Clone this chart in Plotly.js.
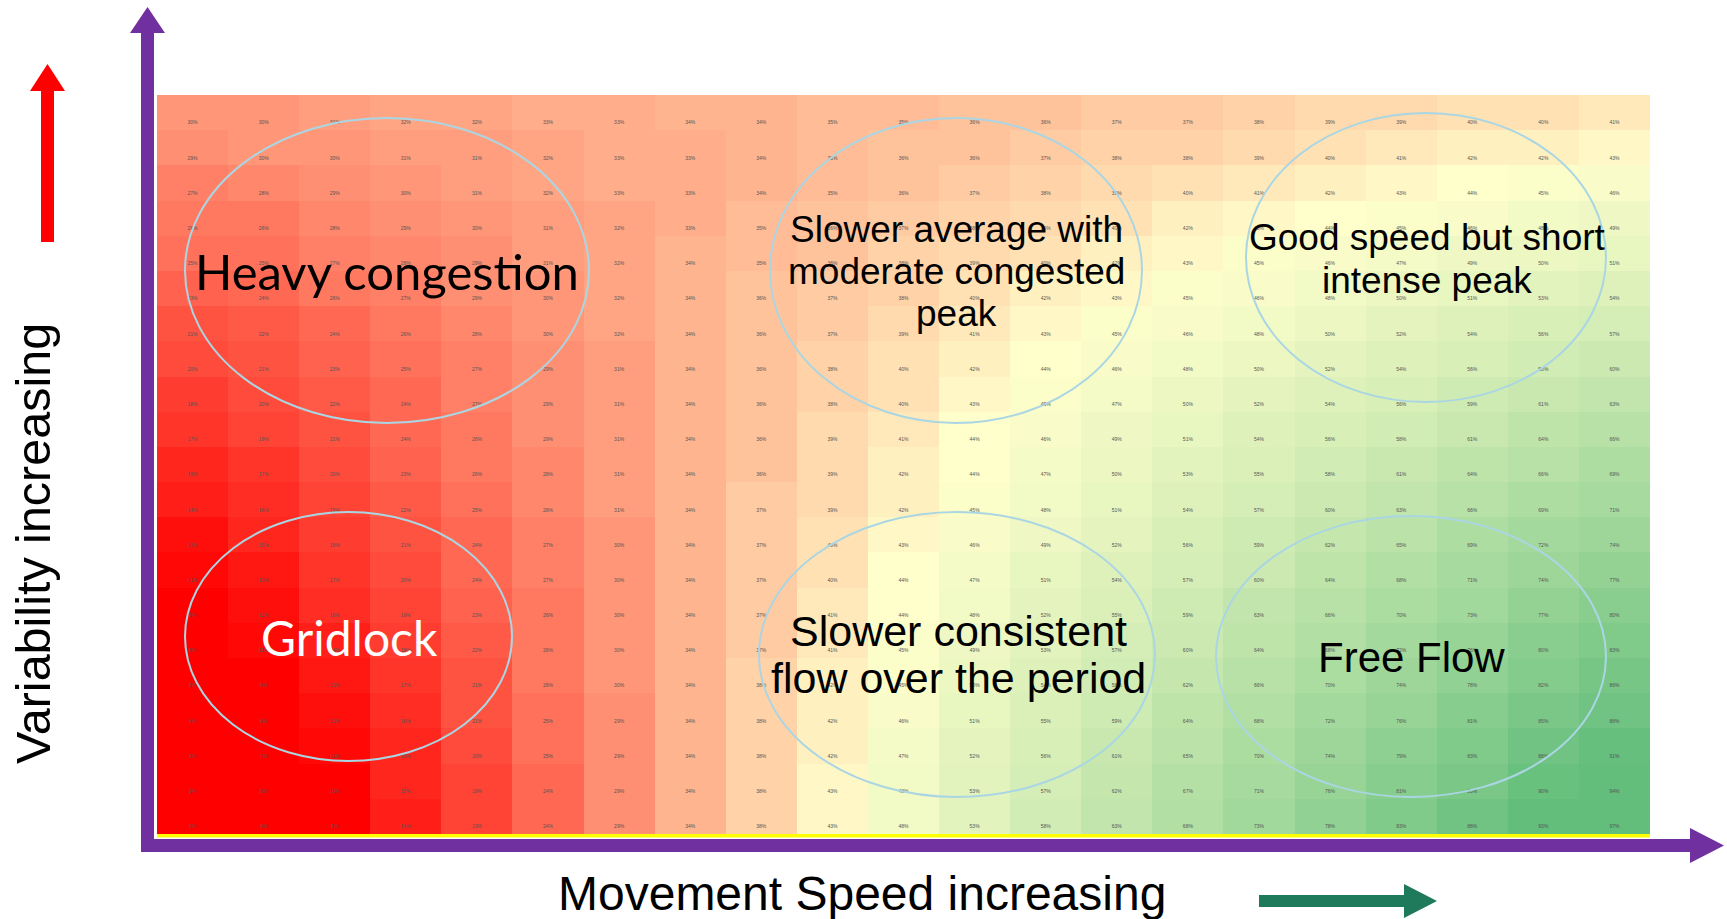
<!DOCTYPE html>
<html>
<head>
<meta charset="utf-8">
<script src="https://cdn.plot.ly/plotly-3.0.1.min.js"></script>
<style>html,body{margin:0;padding:0;background:#fff;}#chart{width:1727px;height:919px;}</style>
</head>
<body>
<div id="chart"></div>
<script>
// Speed columns (left = slow, right = fast) and variability rows (top = high, bottom = low)
const speedCols = Array.from({length: 21}, (_, i) => 'S' + (i + 1));
const variabilityRows = Array.from({length: 21}, (_, i) => 'V' + (21 - i));

// Cell values (%), top row first
const row01 = [30,30,31,32,32,33,33,34,34,35,35,36,36,37,37,38,39,39,40,40,41];
const row02 = [29,30,30,31,31,32,33,33,34,35,36,36,37,38,38,39,40,41,42,42,43];
const row03 = [27,28,29,30,31,32,33,33,34,35,36,37,38,39,40,41,42,43,44,45,46];
const row04 = [26,26,28,29,30,31,32,33,35,36,37,38,39,40,42,43,44,45,46,48,49];
const row05 = [25,25,27,28,29,31,32,34,35,36,38,39,40,42,43,45,46,47,49,50,51];
const row06 = [23,24,26,27,29,30,32,34,36,37,38,40,42,43,45,46,48,50,51,53,54];
const row07 = [21,22,24,26,28,30,32,34,36,37,39,41,43,45,46,48,50,52,54,56,57];
const row08 = [20,21,23,25,27,29,31,34,36,38,40,42,44,46,48,50,52,54,56,58,60];
const row09 = [18,20,22,24,27,29,31,34,36,38,40,43,45,47,50,52,54,56,59,61,63];
const row10 = [17,19,21,24,26,29,31,34,36,39,41,44,46,49,51,54,56,58,61,64,66];
const row11 = [15,17,20,23,26,28,31,34,36,39,42,44,47,50,53,55,58,61,64,66,69];
const row12 = [14,16,19,22,25,28,31,34,37,39,42,45,48,51,54,57,60,63,66,69,71];
const row13 = [12,15,18,21,24,27,30,34,37,40,43,46,49,52,56,59,62,65,69,72,74];
const row14 = [11,13,17,20,24,27,30,34,37,40,44,47,51,54,57,60,64,68,71,74,77];
const row15 = [9,12,16,19,23,26,30,34,37,41,44,48,52,55,59,63,66,70,73,77,80];
const row16 = [8,11,14,18,22,26,30,34,37,41,45,49,53,57,60,64,68,72,76,80,83];
const row17 = [6,9,13,17,21,26,30,34,38,42,45,50,54,58,62,66,70,74,78,82,86];
const row18 = [4,8,12,16,21,25,29,34,38,42,46,51,55,59,64,68,72,76,81,85,88];
const row19 = [3,7,11,15,20,25,29,34,38,42,47,52,56,61,65,70,74,79,83,88,91];
const row20 = [1,5,10,15,19,24,29,34,38,43,48,53,57,62,67,71,76,81,85,90,94];
const row21 = [0,4,9,14,19,24,29,34,38,43,48,53,58,63,68,73,78,83,88,93,97];

const zValues = [row01,row02,row03,row04,row05,row06,row07,row08,row09,row10,row11,
                 row12,row13,row14,row15,row16,row17,row18,row19,row20,row21];

const W = 1727, H = 919;
const X = px => px / W;
const Y = py => 1 - py / H;
const pathOf = pts => 'M ' + pts.map(p => X(p[0]) + ',' + Y(p[1])).join(' L ') + ' Z';

const heat = {
  type: 'heatmap',
  x: speedCols,
  y: variabilityRows,
  z: zValues,
  zmin: 0, zmax: 97,
  colorscale: [[0, '#FF0000'], [10/97, '#FF0000'], [44/97, '#FFFFCC'], [92/97, '#63BE7B'], [1, '#63BE7B']],
  showscale: false,
  hoverinfo: 'skip'
};

// cell labels, drawn near the bottom of each cell via a shifted overlay axis
const lblX = [], lblY = [], lblT = [];
zValues.forEach((row, r) => row.forEach((v, c) => {
  lblX.push(speedCols[c]); lblY.push(variabilityRows[r]); lblT.push(v + '%');
}));
const labels = {
  type: 'scatter', mode: 'text', x: lblX, y: lblY, text: lblT, yaxis: 'y2',
  textfont: {family: 'Arial, Liberation Sans', size: 5, color: '#555'},
  hoverinfo: 'skip', cliponaxis: false
};

const ellipseLine = {color: 'rgb(170,214,228)', width: 2};
const ell = (x0, y0, x1, y1) => ({type: 'circle', xref: 'paper', yref: 'paper',
  x0: X(x0), x1: X(x1), y0: Y(y1), y1: Y(y0), line: ellipseLine, fillcolor: 'rgba(0,0,0,0)'});

const purple = '#7030A0';
const shapes = [
  {type: 'rect', xref: 'paper', yref: 'paper', x0: X(157), x1: X(1650), y0: Y(837.5), y1: Y(834),
   fillcolor: '#FFFF00', line: {width: 0}},
  {type: 'path', xref: 'paper', yref: 'paper', fillcolor: purple, line: {width: 0},
   path: pathOf([[141,852],[141,33],[130,33],[147.5,7],[165,33],[154,33],[154,852]])},
  {type: 'path', xref: 'paper', yref: 'paper', fillcolor: purple, line: {width: 0},
   path: pathOf([[141,839],[1690,839],[1690,828],[1724,845.5],[1690,863],[1690,852],[141,852]])},
  {type: 'path', xref: 'paper', yref: 'paper', fillcolor: '#FF0000', line: {width: 0},
   path: pathOf([[41,242],[41,91],[30,91],[47.5,64],[65,91],[54,91],[54,242]])},
  {type: 'path', xref: 'paper', yref: 'paper', fillcolor: '#1F7A5C', line: {width: 0},
   path: pathOf([[1259,895],[1404,895],[1404,884],[1437,901],[1404,918],[1404,907],[1259,907]])},
  ell(185, 118, 589, 423),
  ell(185, 512, 512, 761),
  ell(770, 118, 1142, 423),
  ell(1246, 113, 1606, 402),
  ell(759, 512, 1155, 797),
  ell(1216, 516, 1606, 797)
];

const ann = (text, x, y, size, family, color) => ({
  text, x: X(x), y: Y(y), xref: 'paper', yref: 'paper', showarrow: false,
  xanchor: 'center', yanchor: 'middle', align: 'center',
  font: {family, size, color}
});
const arialF = 'Arial, Liberation Sans, sans-serif';
const caliF = 'Lato, Carlito, sans-serif';

const annotations = [
  ann('Heavy congestion', 387, 271, 49, caliF, '#000'),
  ann('Gridlock', 349, 637, 48, caliF, '#FFF'),
  ann('Slower average with', 956, 229, 37, arialF, '#000'),
  ann('moderate congested', 956, 271, 37, arialF, '#000'),
  ann('peak', 956, 313, 37, arialF, '#000'),
  ann('Good speed but short', 1427, 237, 37, arialF, '#000'),
  ann('intense peak', 1427, 280, 37, arialF, '#000'),
  ann('Slower consistent', 958, 631, 43, arialF, '#000'),
  ann('flow over the period', 958, 678, 43, arialF, '#000'),
  ann('Free Flow', 1411, 657, 42, arialF, '#000'),
  ann('Movement Speed increasing', 862, 893, 48, arialF, '#000'),
  Object.assign(ann('Variability increasing', 33, 544, 48.5, arialF, '#000'), {textangle: -90})
];

const hidden = {showgrid: false, zeroline: false, showticklabels: false, ticks: '', fixedrange: true};
const layout = {
  width: W, height: H,
  margin: {l: 0, r: 0, t: 0, b: 0},
  paper_bgcolor: '#fff', plot_bgcolor: '#fff',
  xaxis: Object.assign({domain: [X(157), X(1650)], type: 'category', categoryorder: 'array',
    categoryarray: speedCols, range: [-0.5, 20.5], autorange: false}, hidden),
  yaxis: Object.assign({domain: [Y(834), Y(95)], type: 'category', categoryorder: 'array',
    categoryarray: variabilityRows, range: [20.5, -0.5], autorange: false}, hidden),
  yaxis2: Object.assign({domain: [Y(834), Y(95)], overlaying: 'y', type: 'category', categoryorder: 'array',
    categoryarray: variabilityRows, range: [20.2, -0.8], autorange: false}, hidden),
  shapes, annotations,
  showlegend: false
};

Plotly.newPlot('chart', [heat, labels], layout, {staticPlot: true, displayModeBar: false});
</script>
</body>
</html>
